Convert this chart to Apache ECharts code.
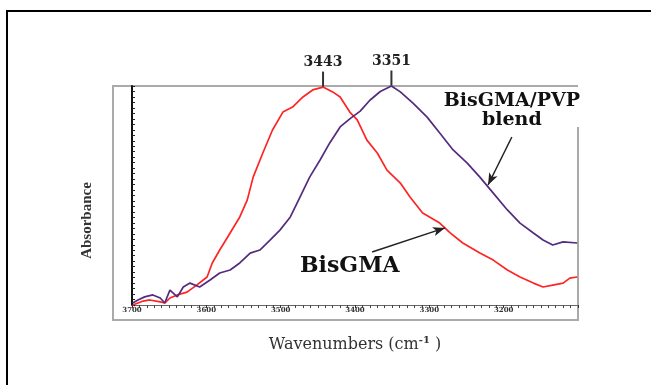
<!DOCTYPE html>
<html>
<head>
<meta charset="utf-8">
<script src="https://cdn.jsdelivr.net/npm/echarts@6/dist/echarts.min.js"></script>
<style>
  html, body { margin: 0; padding: 0; background: #fff; }
  #chart { width: 651px; height: 385px; }
</style>
</head>
<body>
<div id="chart"></div>
<script>
// spectra: [wavenumber, absorbance]
const bisgma = [
  [3699, 0.000], [3685, 0.018], [3676, 0.023], [3662, 0.014], [3656, 0.009],
  [3649, 0.032], [3639, 0.046], [3626, 0.059], [3613, 0.091], [3599, 0.128],
  [3592, 0.192], [3582, 0.251], [3568, 0.329], [3555, 0.402], [3545, 0.479],
  [3537, 0.584], [3524, 0.694], [3511, 0.799], [3497, 0.881], [3484, 0.904],
  [3470, 0.950], [3457, 0.982], [3443, 0.995], [3430, 0.973], [3420, 0.950],
  [3407, 0.881], [3397, 0.845], [3384, 0.753], [3370, 0.694], [3357, 0.616],
  [3339, 0.557], [3326, 0.493], [3309, 0.420], [3286, 0.374], [3272, 0.329],
  [3255, 0.283], [3232, 0.237], [3214, 0.205], [3195, 0.160], [3178, 0.128],
  [3160, 0.100], [3147, 0.082], [3134, 0.091], [3120, 0.100], [3111, 0.123],
  [3101, 0.128]
];
const blend = [
  [3699, 0.009], [3692, 0.023], [3683, 0.037], [3672, 0.046], [3662, 0.032],
  [3656, 0.009], [3649, 0.068], [3639, 0.037], [3631, 0.082], [3622, 0.100],
  [3609, 0.082], [3595, 0.114], [3582, 0.146], [3568, 0.160], [3555, 0.192],
  [3541, 0.237], [3528, 0.251], [3514, 0.297], [3501, 0.342], [3487, 0.402],
  [3474, 0.493], [3461, 0.584], [3447, 0.662], [3434, 0.740], [3420, 0.813],
  [3407, 0.850], [3393, 0.885], [3380, 0.935], [3366, 0.975], [3351, 1.000],
  [3339, 0.973], [3322, 0.922], [3303, 0.858], [3286, 0.785], [3268, 0.708],
  [3249, 0.648], [3232, 0.584], [3214, 0.511], [3195, 0.434], [3178, 0.374],
  [3160, 0.329], [3147, 0.297], [3134, 0.274], [3120, 0.288], [3101, 0.283]
];
const xTickLabels = ['3700', '3600', '3500', '3400', '3300', '3200'];
const peaks = [[3443, 0.995], [3351, 1.0]];

// annotation anchors in data space
const blendArrow = [[3189, 0.767], [3221, 0.548]];
const bisgmaArrow = [[3377, 0.242], [3279, 0.352]];
const blendTextAt = [3189, 0.886];
const bisgmaTextAt = [3407, 0.175];

const chart = echarts.init(document.getElementById('chart'));

const peakMark = (p) => ({
  coord: p,
  symbol: 'rect',
  symbolSize: [2, 15],
  symbolOffset: [0, -8],
  itemStyle: { color: '#333' },
  label: {
    show: true,
    position: 'top',
    distance: 2,
    formatter: String(p[0]),
    fontFamily: 'DejaVu Serif',
    fontWeight: 'bold',
    fontSize: 14,
    color: '#222'
  }
});

const textMark = (coord, text, size) => ({
  coord: coord,
  symbol: 'circle',
  symbolSize: 0,
  label: {
    show: true,
    position: 'inside',
    formatter: text,
    fontFamily: 'DejaVu Serif',
    fontWeight: 'bold',
    fontSize: size,
    lineHeight: size,
    align: 'center',
    color: '#111'
  }
});

const arrowLine = (a) => ({
  markLine: {
    silent: true,
    symbol: ['none', 'arrow'],
    symbolSize: [7, 12],
    lineStyle: { color: '#222', width: 1.5, type: 'solid' },
    label: { show: false },
    data: [[{ coord: a[0] }, { coord: a[1] }]]
  }
});

const option = {
  animation: false,
  backgroundColor: '#fff',
  grid: { left: 132, right: 73, top: 86, bottom: 80 },
  xAxis: {
    type: 'value',
    inverse: true,
    min: 3100,
    max: 3700,
    interval: 100,
    name: 'Wavenumbers (cm{sup|-1} )',
    nameLocation: 'middle',
    nameGap: 30,
    nameTextStyle: {
      fontFamily: 'DejaVu Serif',
      fontSize: 16,
      color: '#333',
      rich: { sup: { fontFamily: 'DejaVu Serif', fontSize: 10, fontWeight: 'bold', verticalAlign: 'top', padding: [0, 0, 10, 0], color: '#333' } }
    },
    axisLine: { lineStyle: { color: '#666', width: 1 } },
    axisTick: { show: true, length: 3, lineStyle: { color: '#333' } },
    minorTick: { show: true, splitNumber: 10, length: 3, lineStyle: { color: '#444' } },
    axisLabel: {
      margin: 2,
      fontFamily: 'DejaVu Serif',
      fontWeight: 'bold',
      fontSize: 7,
      color: '#333',
      formatter: (v) => (xTickLabels.includes(String(v)) ? String(v) : '')
    },
    splitLine: { show: false }
  },
  yAxis: {
    type: 'value',
    min: 0,
    max: 1,
    interval: 0.025,
    name: 'Absorbance',
    nameLocation: 'middle',
    nameGap: 37,
    nameTextStyle: {
      fontFamily: 'Liberation Serif',
      fontWeight: 'bold',
      fontSize: 15,
      color: '#333',
      padding: [0, 50, 0, 0]
    },
    axisLine: { show: true, lineStyle: { color: '#111', width: 2 } },
    axisTick: { show: true, inside: true, length: 3, lineStyle: { color: '#222' } },
    axisLabel: { show: false },
    splitLine: { show: false }
  },
  graphic: [
    {
      // outer page frame
      type: 'polyline',
      silent: true,
      z: 0,
      shape: { points: [[651, 11], [7, 11], [7, 385]] },
      style: { stroke: '#000', lineWidth: 2, fill: 'none' }
    },
    {
      // grey plot box
      type: 'polyline',
      silent: true,
      z: 0,
      shape: { points: [[578, 127], [578, 320], [113, 320], [113, 86], [578, 86]] },
      style: { stroke: '#aaa', lineWidth: 2, fill: 'none' }
    }
  ],
  series: [
    {
      name: 'BisGMA',
      type: 'line',
      data: bisgma,
      symbol: 'none',
      clip: false,
      lineStyle: { color: '#ff2424', width: 1.7 },
      markPoint: {
        silent: true,
        data: [peakMark(peaks[0]), textMark(bisgmaTextAt, 'BisGMA', 22)]
      },
      ...arrowLine(bisgmaArrow)
    },
    {
      name: 'BisGMA/PVP blend',
      type: 'line',
      data: blend,
      symbol: 'none',
      clip: false,
      lineStyle: { color: '#552b7e', width: 1.7 },
      markPoint: {
        silent: true,
        data: [peakMark(peaks[1]), textMark(blendTextAt, 'BisGMA/PVP\nblend', 19)]
      },
      ...arrowLine(blendArrow)
    }
  ]
};

chart.setOption(option);
</script>
</body>
</html>
